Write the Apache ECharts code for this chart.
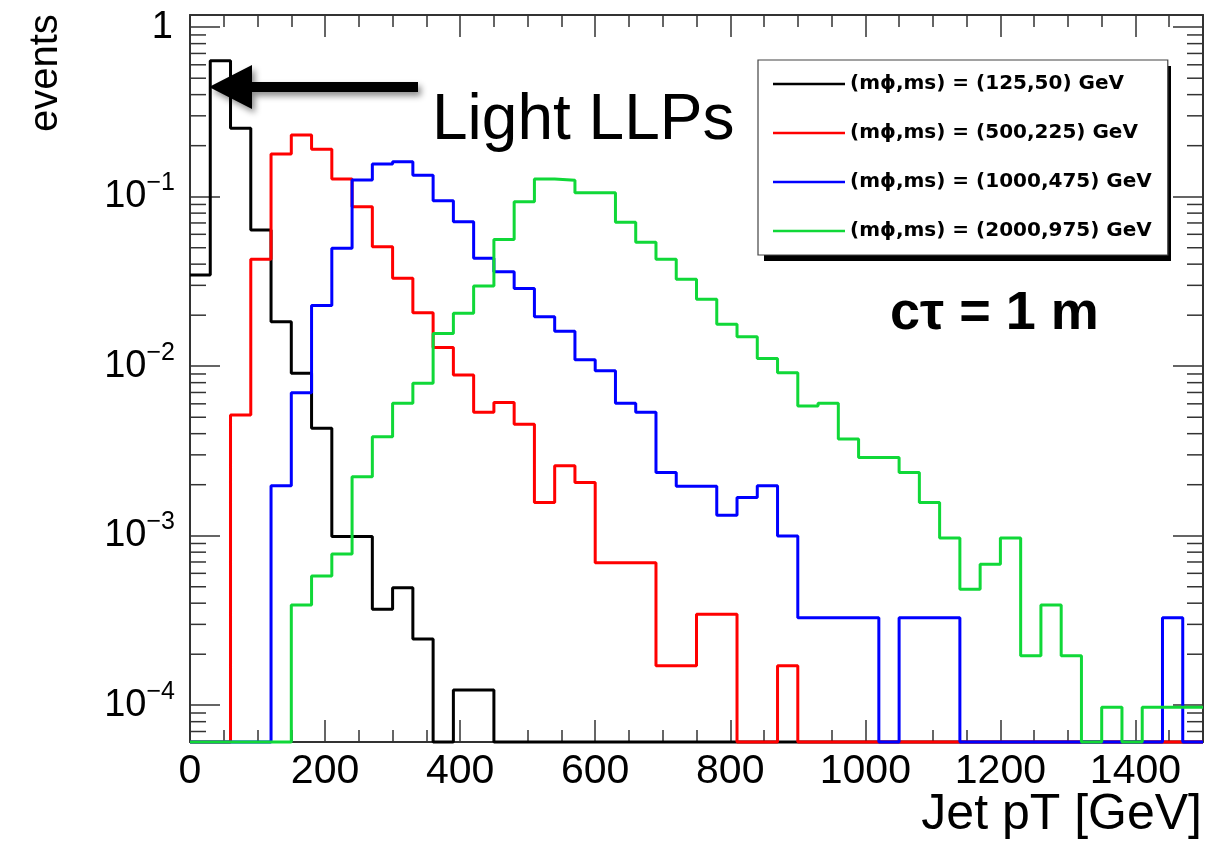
<!DOCTYPE html>
<html>
<head>
<meta charset="utf-8">
<script src="https://cdn.jsdelivr.net/npm/echarts@6/dist/echarts.min.js"></script>
<style>
  html, body { margin: 0; padding: 0; background: #fff; }
  #chart { width: 1223px; height: 843px; }
</style>
</head>
<body>
<div id="chart"></div>
<script>
// ---------- data (events per 30 GeV bin, 0 .. 1500 GeV) ----------
const BIN_WIDTH = 30;
const N_BINS = 50;
const seriesNames = [
  '(mϕ,ms) = (125,50) GeV',
  '(mϕ,ms) = (500,225) GeV',
  '(mϕ,ms) = (1000,475) GeV',
  '(mϕ,ms) = (2000,975) GeV'
];
const seriesColors = ['#000000', '#ff0000', '#0000ff', '#10d838'];

const black = [0.0345, 0.634, 0.253, 0.0636, 0.0183, 0.00908, 0.0043, 0.00099, 0.00099, 0.000368,
  0.000493, 0.000246, 0, 0.000123, 0.000123, 0, 0, 0, 0, 0,
  0, 0, 0, 0, 0, 0, 0, 0, 0, 0,
  0, 0, 0, 0, 0, 0, 0, 0, 0, 0,
  0, 0, 0, 0, 0, 0, 0, 0, 0, 0];
const red = [0, 0, 0.00515, 0.0427, 0.1786, 0.231, 0.1905, 0.127, 0.0873, 0.0507,
  0.033, 0.0207, 0.0129, 0.00887, 0.00535, 0.0061, 0.00454, 0.00157, 0.00259, 0.00206,
  0.000693, 0.000693, 0.000693, 0.000171, 0.000171, 0.000344, 0.000344, 0, 0, 0.000171,
  0, 0, 0, 0, 0, 0, 0, 0, 0, 0,
  0, 0, 0, 0, 0, 0, 0, 0, 0, 0];
const blue = [0, 0, 0, 0, 0.00197, 0.00698, 0.0228, 0.0496, 0.1255, 0.156,
  0.161, 0.134, 0.0947, 0.0712, 0.0433, 0.0361, 0.0287, 0.0196, 0.0161, 0.0109,
  0.0094, 0.00604, 0.00535, 0.00236, 0.00196, 0.00196, 0.00132, 0.00168, 0.00197, 0.000996,
  0.000328, 0.000328, 0.000328, 0.000328, 0, 0.000328, 0.000328, 0.000328, 0, 0,
  0, 0, 0, 0, 0, 0, 0, 0, 0.000328, 0];
const green = [0, 0, 0, 0, 0, 0.00039, 0.000578, 0.00078, 0.00223, 0.00384,
  0.00604, 0.00793, 0.0156, 0.0205, 0.0297, 0.056, 0.0934, 0.127, 0.125, 0.1056,
  0.1056, 0.0706, 0.0538, 0.0427, 0.0326, 0.0248, 0.0177, 0.0149, 0.0111, 0.00916,
  0.00582, 0.00604, 0.00372, 0.00289, 0.00289, 0.00236, 0.00157, 0.00097, 0.000483, 0.000678,
  0.00097, 0.000196, 0.00039, 0.000196, 0, 0.0000972, 0, 0.0000972, 0.0000972, 0.0000972];

const xTickStep = 200;
const xMinorStep = 50;
const X_MIN = 0, X_MAX = 1500;
const Y_MIN = 6.07e-5, Y_MAX = 1.18;

// ---------- build ----------
const FONT = '"Liberation Sans", Arial, Helvetica, sans-serif';
const AXIS_COLOR = '#333';

function histPoints(vals) {
  const pts = [];
  for (let i = 0; i < N_BINS; i++) {
    pts.push([i * BIN_WIDTH, Math.max(vals[i], Y_MIN)]);
  }
  pts.push([N_BINS * BIN_WIDTH, Math.max(vals[N_BINS - 1], Y_MIN)]);
  return pts;
}

// minor tick positions of the log axis (2..9 x 10^n)
const minorVals = [];
for (let n = -5; n <= 0; n++) {
  for (let k = 2; k <= 9; k++) {
    const v = k * Math.pow(10, n);
    if (v > Y_MIN && v < Y_MAX) minorVals.push([0, v]);
  }
}

const allData = [black, red, blue, green];
const histSeries = allData.map((vals, idx) => ({
  name: seriesNames[idx],
  type: 'line',
  step: 'end',
  data: histPoints(vals),
  symbol: 'none',
  showSymbol: false,
  clip: false,
  color: seriesColors[idx],
  lineStyle: { color: seriesColors[idx], width: 3 },
  itemStyle: { color: seriesColors[idx] },
  xAxisIndex: 0,
  yAxisIndex: 0,
  z: 3 + idx
}));

const minorTickSeries = {
  type: 'custom',
  name: 'minorTicks',
  xAxisIndex: 0,
  yAxisIndex: 0,
  silent: true,
  clip: false,
  data: minorVals,
  encode: { x: 0, y: 1 },
  z: 2,
  renderItem: function (params, api) {
    const v = api.value(1);
    const pL = api.coord([X_MIN, v]);
    const pR = api.coord([X_MAX, v]);
    return {
      type: 'group',
      children: [
        { type: 'line', shape: { x1: pL[0], y1: pL[1], x2: pL[0] + 16, y2: pL[1] },
          style: { stroke: AXIS_COLOR, lineWidth: 1.5 } },
        { type: 'line', shape: { x1: pR[0], y1: pR[1], x2: pR[0] - 16, y2: pR[1] },
          style: { stroke: AXIS_COLOR, lineWidth: 1.5 } }
      ]
    };
  }
};

function xAxisDef(position, interval, major) {
  return {
    type: 'value',
    position: position,
    min: X_MIN, max: X_MAX, interval: interval,
    axisLine: { show: major, onZero: false, lineStyle: { color: AXIS_COLOR, width: 2 } },
    axisTick: { show: true, inside: true, length: major ? 22 : 12,
      lineStyle: { color: AXIS_COLOR, width: 1.5 } },
    axisLabel: {
      show: major && position === 'bottom',
      margin: 9,
      fontSize: 41, fontFamily: FONT, color: '#000',
      formatter: v => (v % xTickStep === 0 ? String(v) : '')
    },
    splitLine: { show: false }
  };
}

function yAxisDef(position, labels) {
  return {
    type: 'log',
    logBase: 10,
    position: position,
    min: Y_MIN, max: Y_MAX,
    axisLine: { show: true, onZero: false, lineStyle: { color: AXIS_COLOR, width: 2 } },
    axisTick: { show: true, inside: true, length: 30, lineStyle: { color: AXIS_COLOR, width: 1.5 } },
    axisLabel: {
      show: labels,
      margin: 15,
      fontFamily: FONT, color: '#000',
      formatter: function (v) {
        const e = Math.log10(v);
        const r = Math.round(e);
        if (Math.abs(e - r) > 1e-6) return '';
        if (r === 0) return '{one|1}';
        return '{b|10}{s|\u2212' + (-r) + '}';
      },
      rich: {
        b: { fontSize: 38, fontFamily: FONT, color: '#000', lineHeight: 38, verticalAlign: 'bottom' },
        s: { fontSize: 25, fontFamily: FONT, color: '#000', lineHeight: 25, verticalAlign: 'bottom', padding: [0, 0, 20, 0] },
        one: { fontSize: 38, fontFamily: FONT, color: '#000', padding: [0, 2, 0, 0] }
      }
    },
    splitLine: { show: false },
    minorTick: { show: false }
  };
}

const chart = echarts.init(document.getElementById('chart'), null, { renderer: 'canvas' });

const option = {
  animation: false,
  backgroundColor: '#ffffff',
  grid: { left: 190, top: 15, width: 1013, height: 727, containLabel: false },
  xAxis: [
    xAxisDef('bottom', xTickStep, true),
    xAxisDef('bottom', xMinorStep, false),
    xAxisDef('top', xTickStep, true),
    xAxisDef('top', xMinorStep, false)
  ],
  yAxis: [
    yAxisDef('left', true),
    yAxisDef('right', false)
  ],
  legend: {
    data: seriesNames,
    orient: 'vertical',
    left: 758,
    top: 60,
    padding: [14, 16, 14, 15],
    itemWidth: 72,
    itemHeight: 2.5,
    itemGap: 29,
    itemTextGap: 13,
    icon: 'rect',
    selectedMode: false,
    backgroundColor: '#ffffff',
    borderColor: '#444',
    borderWidth: 1.2,
    textStyle: {
      fontFamily: '"DejaVu Sans", sans-serif',
      fontWeight: 'bold',
      fontSize: 20,
      lineHeight: 20,
      color: '#000'
    }
  },
  graphic: [
    // drop shadow of the legend box
    { type: 'rect', z: 0, shape: { x: 764, y: 66, width: 407, height: 195 },
      style: { fill: '#000' } },
    { type: 'text', x: 46, y: 132, rotation: Math.PI / 2,
      style: { text: 'events', font: '40px ' + FONT, fill: '#000',
        align: 'left', verticalAlign: 'middle', textAlign: 'left', textVerticalAlign: 'middle' } },
    { type: 'text', x: 1202, y: 815,
      style: { text: 'Jet pT [GeV]', font: '50px ' + FONT, fill: '#000',
        align: 'right', verticalAlign: 'middle', textAlign: 'right', textVerticalAlign: 'middle' } },
    { type: 'text', x: 432, y: 121,
      style: { text: 'Light LLPs', font: '64px ' + FONT, fill: '#000',
        align: 'left', verticalAlign: 'middle', textAlign: 'left', textVerticalAlign: 'middle' } },
    { type: 'text', x: 890, y: 314,
      style: { text: 'c\u03c4 = 1 m', font: 'bold 54px ' + FONT, fill: '#000',
        align: 'left', verticalAlign: 'middle', textAlign: 'left', textVerticalAlign: 'middle' } },
    { type: 'polygon', z: 100,
      shape: { points: [[209, 87], [252, 65], [252, 82], [418, 82], [418, 92], [252, 92], [252, 109]] },
      style: { fill: '#000', shadowBlur: 6, shadowColor: 'rgba(0,0,0,0.45)', shadowOffsetX: 3, shadowOffsetY: 4 } }
  ],
  series: histSeries.concat([minorTickSeries])
};

chart.setOption(option);
</script>
</body>
</html>
